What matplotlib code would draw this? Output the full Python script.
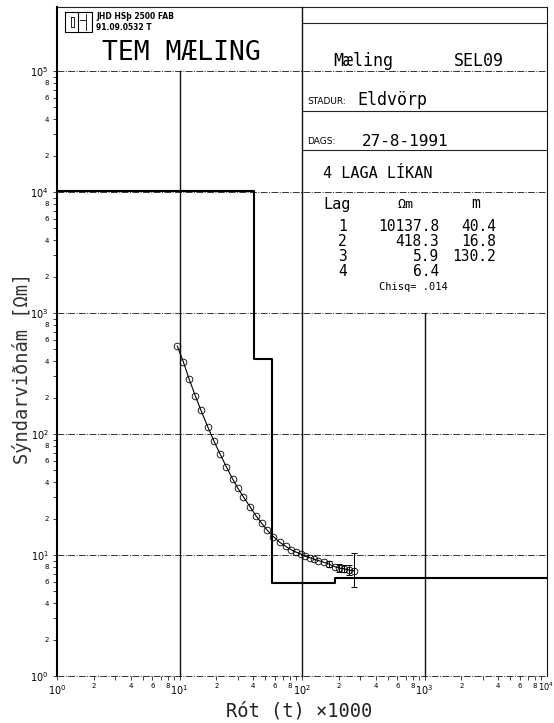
import numpy as np
import matplotlib
matplotlib.use('Agg')
import matplotlib.pyplot as plt
from matplotlib.ticker import FixedLocator, FuncFormatter
from matplotlib.lines import Line2D

# ---------------- data ----------------
# measured apparent resistivity vs. root time (x1000)
t_vals = [9.59, 10.74, 11.97, 13.46, 14.96, 16.98, 19.14, 21.43, 24.10, 27.16,
          29.85, 33.19, 37.58, 42.07, 46.88, 52.12, 58.34, 66.07, 73.62, 80.91,
          88.72, 97.50, 105.7, 116.1, 125.9, 135.8, 151.4, 167.1, 185.8, 201.8,
          220.3, 243.2, 267.3]
rho_vals = [533, 396, 285, 207, 157, 115, 87.1, 68.4, 53.7, 42.5,
            35.8, 30.3, 25.1, 21.1, 18.3, 16.0, 14.2, 12.7, 11.8, 11.1,
            10.6, 10.2, 9.8, 9.5, 9.2, 9.0, 8.7, 8.4, 8.0, 7.8,
            7.7, 7.5, 7.4]
# error bars on the late-time points (lower, upper)
err_t = [167.1, 201.8, 220.3, 243.2, 267.3]
err_rho = [8.4, 7.8, 7.7, 7.5, 7.4]
err_low = [8.0, 7.3, 7.2, 6.9, 5.45]
err_high = [8.9, 8.4, 8.3, 8.2, 10.4]

# layered model
layer_no = [1, 2, 3, 4]
layer_res = [10137.8, 418.3, 5.9, 6.4]
layer_thk = [40.4, 16.8, 130.2]
chisq = ".014"

x_decades = [0, 1, 2, 3, 4]
y_decades = [0, 1, 2, 3, 4, 5]

# ---------------- figure ----------------
W, H = 554, 723
fig = plt.figure(figsize=(W / 100, H / 100), dpi=100)
ax = fig.add_axes([57 / W, 47 / H, 490 / W, 669 / H])
ax.set_xscale('log')
ax.set_yscale('log')
ytop = 10 ** 5.529
ax.set_xlim(1, 1e4)
ax.set_ylim(1, ytop)

for s in ['top', 'right', 'bottom']:
    ax.spines[s].set_visible(False)
ax.spines['left'].set_linewidth(1.5)

dash = (0, (7, 1.5, 1, 1.5))

def hl(y, x0=1, x1=1e4, ls=dash, lw=0.7, c='#333333'):
    ax.plot([x0, x1], [y, y], ls=ls, color=c, lw=lw, zorder=1,
            clip_on=False, solid_capstyle='butt')

def vl(x, y0=1, y1=ytop, lw=1.0):
    ax.plot([x, x], [y0, y1], color='#111111', lw=lw, zorder=1, clip_on=False)

for y in [1, 10, 100, 1000, 1e4, 1e5]:
    hl(y)
hl(ytop, ls='-', lw=0.8, c='#222222')
for yy in [10 ** 5.397, 10 ** 4.669, 10 ** 4.347]:
    hl(yy, 100, 1e4, ls='-', lw=0.8, c='#222222')
vl(10, 1, 1e5)
vl(100, 1, ytop)
vl(1000, 1, 1000)
vl(1e4, 1, ytop, lw=0.8)

# model steps
edges = np.concatenate([[1.0], np.cumsum(layer_thk), [1e4]])
res = layer_res + [layer_res[-1]]
ax.step(edges, res, where='post', color='black', lw=1.5, zorder=3)

# data
ax.plot(t_vals, rho_vals, '-', color='black', lw=0.8, zorder=4)
ax.plot(t_vals, rho_vals, 'o', mfc='none', mec='black', ms=4.8, mew=0.6, zorder=5)
ax.errorbar(err_t, err_rho,
            yerr=[np.array(err_rho) - np.array(err_low),
                  np.array(err_high) - np.array(err_rho)],
            fmt='none', ecolor='black', elinewidth=0.7, capsize=2, capthick=0.7,
            zorder=5)

# ticks
def mf(v, p):
    m = v / 10 ** np.floor(np.log10(v) + 1e-9)
    mi = int(round(m))
    return str(mi) if mi in (2, 4, 6, 8) else ''

majfmt = FuncFormatter(lambda v, p: r'$\mathdefault{10^{%d}}$' % round(np.log10(v)))
ax.xaxis.set_major_locator(FixedLocator([10.0 ** e for e in x_decades[:-1]]))
ax.xaxis.set_minor_locator(FixedLocator([m * 10.0 ** e for e in x_decades[:-1] for m in range(2, 10)]))
ax.yaxis.set_major_locator(FixedLocator([10.0 ** e for e in y_decades]))
ax.yaxis.set_minor_locator(FixedLocator([m * 10.0 ** e for e in y_decades[:-1] for m in range(2, 10)]))
for axis in [ax.xaxis, ax.yaxis]:
    axis.set_major_formatter(majfmt)
    axis.set_minor_formatter(FuncFormatter(mf))
ax.tick_params(which='both', direction='out', length=3, width=0.6, color='#222222')
ax.tick_params(which='major', labelsize=7)
ax.tick_params(which='minor', labelsize=5)
ax.tick_params(axis='x', which='both', pad=2)
ax.tick_params(axis='y', which='both', pad=3)

# ---------------- texts ----------------
def ft(x, y, s, **kw):
    fig.text(x / W, 1 - y / H, s, **kw)

# last x decade label, squeezed in at the right edge
ft(554, 687, r'$\mathdefault{10^{%d}}$' % x_decades[-1], fontsize=6, ha='right', va='center')

mono = 'DejaVu Sans Mono'
# logo
def pl(xs, ys, lw=0.8):
    fig.add_artist(Line2D([x / W for x in xs], [1 - y / H for y in ys],
                          color='black', lw=lw))
pl([65, 91.5, 91.5, 65, 65], [12, 12, 32, 32, 12])
pl([78, 78], [12, 32])
pl([71, 74, 74, 71, 71], [17, 17, 27, 27, 17], lw=0.6)
pl([80, 86], [20, 20], lw=0.6)
pl([86, 86], [14, 30], lw=0.6)
ft(96.5, 16.7, 'JHD HSþ 2500 FAB', fontsize=5.5, fontweight='bold', va='center', ha='left')
ft(96.5, 27.3, '91.09.0532 T', fontsize=5.5, fontweight='bold', va='center', ha='left')
ft(181, 53, 'TEM MÆLING', fontsize=19, family=mono, va='center', ha='center')

ft(333, 61, 'Mæling', fontsize=12, family=mono, va='center', ha='left')
ft(504, 61, 'SEL09', fontsize=12, family=mono, va='center', ha='right')
ft(307, 102, 'STADUR:', fontsize=6.5, va='center', ha='left')
ft(357, 100, 'Eldvörp', fontsize=12, family=mono, va='center', ha='left')
ft(307, 142, 'DAGS:', fontsize=6.5, va='center', ha='left')
ft(362, 141, '27-8-1991', fontsize=11.5, family=mono, va='center', ha='left')
ft(323, 173, '4 LAGA LÍKAN', fontsize=11, family=mono, va='center', ha='left')

ft(323, 204, 'Lag', fontsize=11, family=mono, va='center', ha='left')
ft(406, 204, 'Ωm', fontsize=9.5, family=mono, va='center', ha='center')
ft(476, 204, 'm', fontsize=10.5, family=mono, va='center', ha='center')
row_y = [226.5, 241.7, 256.7, 271.7]
for i, n in enumerate(layer_no):
    ft(347, row_y[i], str(n), fontsize=10.5, family=mono, va='center', ha='right')
    ft(439, row_y[i], '%.1f' % layer_res[i], fontsize=10.5, family=mono, va='center', ha='right')
    if i < len(layer_thk):
        ft(496, row_y[i], '%.1f' % layer_thk[i], fontsize=10.5, family=mono, va='center', ha='right')
ft(413, 287, 'Chisq= ' + chisq, fontsize=7.5, family=mono, va='center', ha='center')

# axis labels
ft(299, 711, 'Rót (t) ×1000', fontsize=13.5, family=mono, va='center', ha='center', color='#222222')
ft(22, 368, 'Sýndarviðnám [Ωm]', fontsize=13.5, family=mono, va='center', ha='center',
   rotation=90, color='#333333')

fig.savefig('out.png', dpi=100, facecolor='white')
